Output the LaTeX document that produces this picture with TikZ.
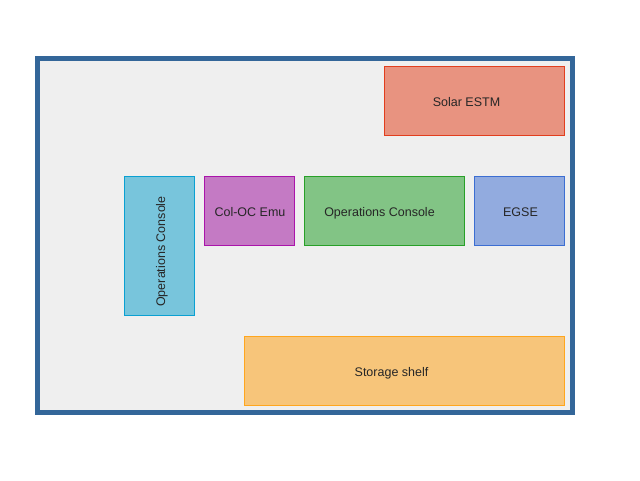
\documentclass[tikz,border=0pt]{standalone}
\usepackage{fontspec}
\setmainfont{Liberation Sans}
\definecolor{frameblue}{RGB}{51,102,153}
\definecolor{bggray}{RGB}{239,239,239}
\definecolor{salmonfill}{RGB}{232,147,128}
\definecolor{salmonline}{RGB}{226,62,30}
\definecolor{greenfill}{RGB}{130,196,133}
\definecolor{greenline}{RGB}{40,160,40}
\definecolor{bluefill}{RGB}{146,171,223}
\definecolor{blueline}{RGB}{60,110,210}
\definecolor{purplefill}{RGB}{196,122,196}
\definecolor{purpleline}{RGB}{170,20,170}
\definecolor{cyanfill}{RGB}{120,197,220}
\definecolor{cyanline}{RGB}{10,160,210}
\definecolor{orangefill}{RGB}{247,197,122}
\definecolor{orangeline}{RGB}{255,166,30}
\tikzset{
  room/.style={draw=frameblue, fill=bggray, line width=5pt},
  block/.style={line width=1pt},
  lbl/.style={font=\fontsize{12.5}{14}\selectfont, text=black!85, inner sep=0pt, anchor=base}
}
\begin{document}
\begin{tikzpicture}[x=1pt,y=-1pt]
\useasboundingbox (0,0) rectangle (640,480);
\fill[white] (0,0) rectangle (640,480);
\draw[room] (37.5,58.5) rectangle (572.5,412.5);
% blocks
\draw[block, draw=salmonline, fill=salmonfill] (384.5,66.5) rectangle (564.5,135.5);
\draw[block, draw=blueline, fill=bluefill] (474.5,176.5) rectangle (564.5,245.5);
\draw[block, draw=greenline, fill=greenfill] (304.5,176.5) rectangle (464.5,245.5);
\draw[block, draw=purpleline, fill=purplefill] (204.5,176.5) rectangle (294.5,245.5);
\draw[block, draw=cyanline, fill=cyanfill] (124.5,176.5) rectangle (194.5,315.5);
\draw[block, draw=orangeline, fill=orangefill] (244.5,336.5) rectangle (564.5,405.5);
% labels
\node[lbl] (solar) at (466.5,106.5) {Solar ESTM};
\node[lbl] (egse) at (520.5,216) {EGSE};
\node[lbl] (ops) at (379.5,216) {Operations Console};
\node[lbl] (colemu) at (250,216) {Col-OC Emu};
\node[lbl, rotate=90] (opsv) at (165,251.5) {Operations Console};
\node[lbl] (shelf) at (391.5,376.5) {Storage shelf};
\end{tikzpicture}
\end{document}
